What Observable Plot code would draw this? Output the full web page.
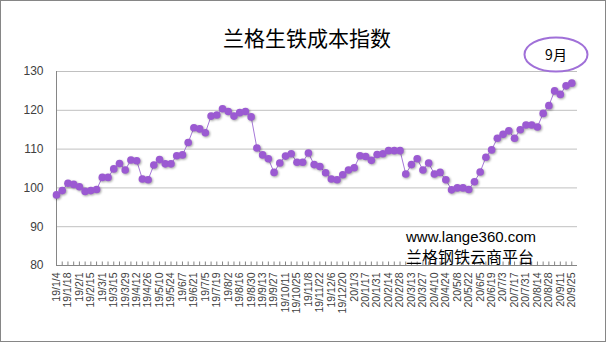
<!DOCTYPE html>
<html><head><meta charset="utf-8">
<script src="https://cdn.jsdelivr.net/npm/d3@7"></script>
<script src="https://cdn.jsdelivr.net/npm/@observablehq/plot@0.6"></script>
<style>
html,body{margin:0;padding:0;background:#fff;}
#wrap{position:relative;width:606px;height:342px;overflow:hidden;background:#fff;}
#wrap > svg.plot{position:absolute;left:0;top:0;}
#over{position:absolute;left:0;top:0;pointer-events:none;}
#border{position:absolute;left:0;top:0;width:606px;height:342px;box-sizing:border-box;border:1px solid #868686;pointer-events:none;}
</style>
</head><body>
<div id="wrap"></div>
<script>
const dates = [
 "19/1/4","19/1/11","19/1/18","19/1/25","19/2/1","19/2/8","19/2/15","19/2/22",
 "19/3/1","19/3/8","19/3/15","19/3/22","19/3/29","19/4/5","19/4/12","19/4/19","19/4/26",
 "19/5/3","19/5/10","19/5/17","19/5/24","19/5/31","19/6/7","19/6/14","19/6/21","19/6/28",
 "19/7/5","19/7/12","19/7/19","19/7/26","19/8/2","19/8/9","19/8/16","19/8/23","19/8/30",
 "19/9/6","19/9/13","19/9/20","19/9/27","19/10/4","19/10/11","19/10/18","19/10/25",
 "19/11/1","19/11/8","19/11/15","19/11/22","19/11/29","19/12/6","19/12/13","19/12/20","19/12/27",
 "20/1/3","20/1/10","20/1/17","20/1/24","20/1/31","20/2/7","20/2/14","20/2/21","20/2/28",
 "20/3/6","20/3/13","20/3/20","20/3/27","20/4/3","20/4/10","20/4/17","20/4/24",
 "20/5/1","20/5/8","20/5/15","20/5/22","20/5/29","20/6/5","20/6/12","20/6/19","20/6/26",
 "20/7/3","20/7/10","20/7/17","20/7/24","20/7/31","20/8/7","20/8/14","20/8/21","20/8/28",
 "20/9/4","20/9/11","20/9/18","20/9/25"
];
const values = [
 98.2,99.3,101.2,100.9,100.3,99.1,99.3,99.6,
 102.7,102.7,104.9,106.3,104.6,107.2,107.0,102.3,102.1,
 105.9,107.3,106.2,106.2,108.3,108.5,111.7,115.5,115.2,
 114.2,118.5,118.8,120.4,119.7,118.5,119.4,119.7,118.3,
 110.3,108.5,107.5,104.0,106.4,108.2,108.8,106.6,
 106.6,109.0,106.0,105.5,103.9,102.3,102.1,103.4,104.6,
 105.2,108.3,108.1,107.1,108.6,108.8,109.6,109.6,109.6,
 103.6,106.0,107.5,104.6,106.4,103.6,104.0,102.1,
 99.5,100.0,100.0,99.6,101.6,104.1,107.9,109.8,112.8,
 113.8,114.7,112.8,115.0,116.2,116.2,115.7,119.2,121.2,
 125.0,124.1,126.3,127.0
];
const yTicks = [80, 90, 100, 110, 120, 130];
const xTickLabels = dates.filter((d, i) => i % 2 === 0);
const titleText = "兰格生铁成本指数";
const noteText = "9月";
const siteText = "www.lange360.com";
const brandText = "兰格钢铁云商平台";

const data = dates.map((d, i) => ({date: d, value: values[i]}));

const chart = Plot.plot({
  width: 606, height: 342,
  marginTop: 71, marginBottom: 77, marginLeft: 56, marginRight: 29,
  style: {fontFamily: "'Liberation Sans', Arial, sans-serif", background: "transparent", color: "#404040"},
  x: {type: "point", domain: dates, padding: 0.5, align: 0, label: null},
  y: {domain: [80, 130], label: null},
  marks: [
    Plot.gridY(yTicks.filter(v => v > 80), {stroke: "#c0c0c0", strokeOpacity: 1}),
    Plot.ruleY([80], {stroke: "#868686"}),
    Plot.ruleX([dates[0]], {stroke: "#868686"}),
    Plot.ruleX(dates, {y1: 80, y2: 80.9, stroke: "#868686"}),
    Plot.axisY(yTicks, {tickSize: 0, tickPadding: 13, fontSize: 12, fill: "#404040", label: null}),
    Plot.axisX(xTickLabels, {tickSize: 0, tickPadding: 7, tickRotate: -90, fontSize: 10.5, fill: "#404040", label: null}),
    Plot.line(data, {x: "date", y: "value", stroke: "#a678d8", strokeWidth: 1}),
    Plot.dot(data, {x: "date", y: "value", r: 3.8, fill: "#9b5ad2", stroke: "none"})
  ]
});
const wrap = document.getElementById("wrap");
wrap.appendChild(chart);
const dotG = chart.querySelector('g[aria-label="dot"]');
if (dotG) dotG.style.filter = "drop-shadow(1px 1.5px 1px rgba(0,0,0,0.35))";

// overlay: title, annotation, watermark
const svg = d3.select(wrap).append("svg").attr("id", "over").attr("width", 606).attr("height", 342);
svg.append("text").attr("x", 307).attr("y", 46).attr("text-anchor", "middle")
  .style("font-family", "'Noto Sans CJK SC', sans-serif").style("font-size", "21px").attr("fill", "#000")
  .text(titleText);
svg.append("ellipse").attr("cx", 556).attr("cy", 54.5).attr("rx", 31.5).attr("ry", 17)
  .attr("fill", "none").attr("stroke", "#a070d8").attr("stroke-width", 2);
svg.append("text").attr("x", 556).attr("y", 60).attr("text-anchor", "middle")
  .style("font-family", "'Noto Sans CJK SC', sans-serif").style("font-size", "14px").attr("fill", "#000")
  .text(noteText);
svg.append("text").attr("x", 406).attr("y", 242)
  .style("font-family", "'Liberation Sans', Arial, sans-serif").style("font-size", "15px").attr("fill", "#000")
  .text(siteText);
svg.append("text").attr("x", 406).attr("y", 263)
  .style("font-family", "'Noto Sans CJK SC', sans-serif").style("font-size", "16px").attr("fill", "#000")
  .text(brandText);
const b = document.createElement("div"); b.id = "border"; wrap.appendChild(b);
</script>
</body></html>
